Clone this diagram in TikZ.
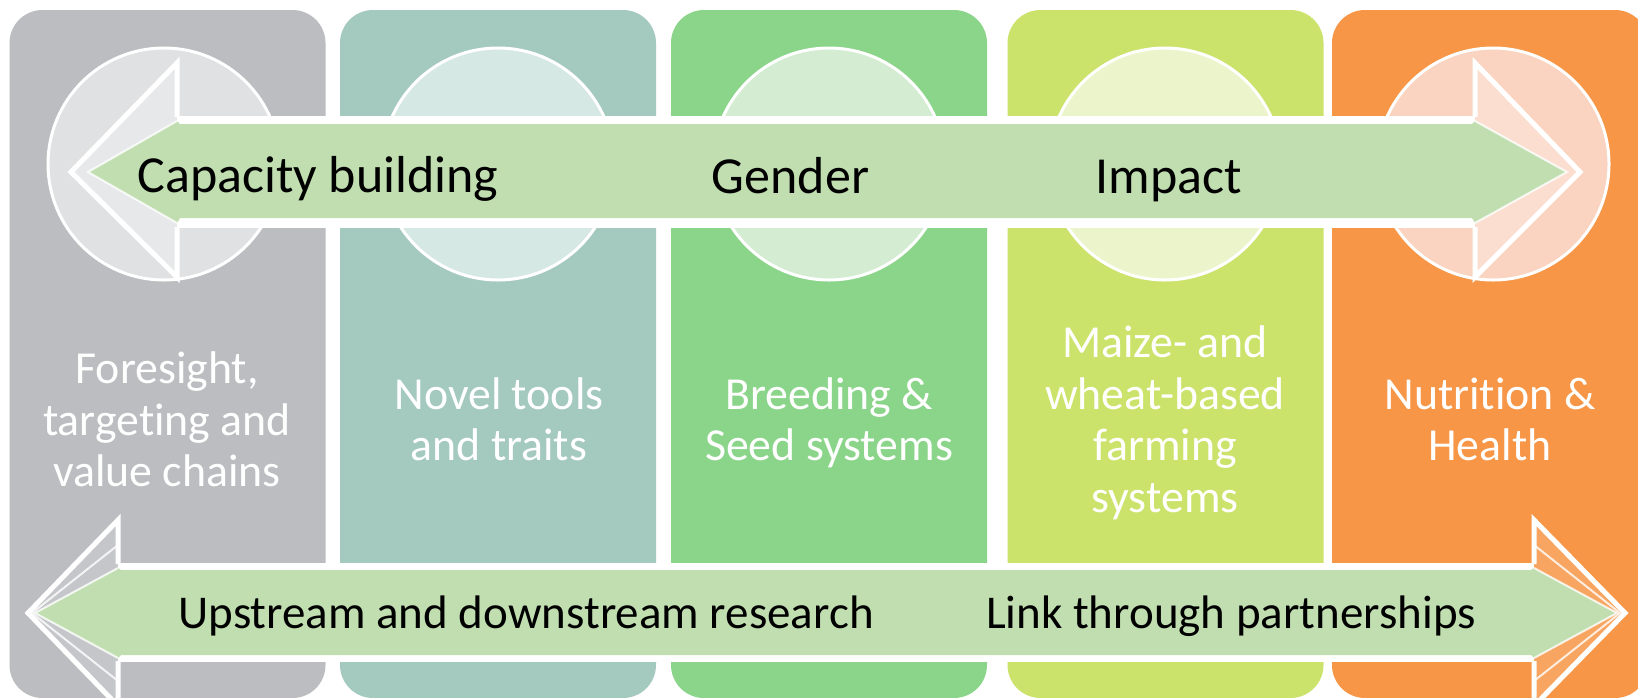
\documentclass[tikz,border=0pt]{standalone}
\usepackage{fontspec}
\setmainfont[RawFeature={-liga;-clig;-calt;-rlig;-dlig}]{Carlito}
\definecolor{colgray}{RGB}{188,189,192}
\definecolor{colteal}{RGB}{164,201,190}
\definecolor{colgreen}{RGB}{139,213,138}
\definecolor{collime}{RGB}{203,227,107}
\definecolor{colorange}{RGB}{247,150,70}
\definecolor{cirgray}{RGB}{224,225,226}
\definecolor{cirteal}{RGB}{214,232,227}
\definecolor{cirgreen}{RGB}{212,237,210}
\definecolor{cirlime}{RGB}{236,244,204}
\definecolor{cirorange}{RGB}{250,212,192}
\definecolor{arrowgreen}{RGB}{192,222,176}
\begin{document}
\begin{tikzpicture}[x=0.5pt,y=-0.5pt,
  colbox/.style={rectangle, rounded corners=16.5pt, minimum width=158pt, minimum height=344pt, inner sep=0pt, draw=none},
  cirbox/.style={circle, minimum size=116pt, inner sep=0pt, draw=white, line width=1.5pt},
  toplbl/.style={anchor=base, inner sep=0pt, text=black, font=\fontsize{26}{31}\selectfont},
  botlbl/.style={anchor=base, inner sep=0pt, text=black, font=\fontsize{23.5}{28}\selectfont},
  collbl/.style={align=center, inner sep=0pt, text=white, font=\fontsize{22.9}{25.85}\selectfont},
  edge/.style={white, line width=2.5pt, line join=miter, line cap=butt},
  faint/.style={white, line width=1pt, opacity=0.8}]
\useasboundingbox (0,0) rectangle (1638,697);
\fill[white] (0,0) rectangle (1638,697);

% columns
\node[colbox, fill=colgray]   (c1) at (167.5,354) {};
\node[colbox, fill=colteal]   (c2) at (498,354) {};
\node[colbox, fill=colgreen]  (c3) at (829,354) {};
\node[colbox, fill=collime]   (c4) at (1165.5,354) {};
\node[colbox, fill=colorange] (c5) at (1490,354) {};

% circles
\node[cirbox, fill=cirgray]   (o1) at (164,164) {};
\node[cirbox, fill=cirteal]   (o2) at (498,164) {};
\node[cirbox, fill=cirgreen]  (o3) at (829,164) {};
\node[cirbox, fill=cirlime]   (o4) at (1165,164) {};
\node[cirbox, fill=cirorange] (o5) at (1493,164) {};

% top double arrow
\fill[white] (177,116) rectangle (1475,228);
\fill[white, opacity=0.25] (177,63) -- (68,172) -- (177,277) -- cycle;
\fill[white, opacity=0.25] (1475,63) -- (1583,172) -- (1475,277) -- cycle;
\fill[arrowgreen] (88,172) -- (177,121) -- (180,124) -- (1472,124) -- (1475,121) -- (1567,172)
  -- (1475,223) -- (1472,218) -- (180,218) -- (177,223) -- cycle;
\draw[edge] (177,117) -- (177,63) -- (71,172) -- (177,277) -- (177,227);
\draw[edge] (1475,117) -- (1475,63) -- (1580,172) -- (1475,277) -- (1475,227);
\draw[faint] (177,121) -- (88,172) -- (177,223);
\draw[faint] (1475,121) -- (1567,172) -- (1475,223);

% bottom double arrow
\fill[white] (118,563) rectangle (1534,662);
\fill[white, opacity=0.15] (118,520) -- (25,613) -- (118,706) -- cycle;
\fill[white, opacity=0.15] (1534,520) -- (1628,613) -- (1534,706) -- cycle;
\fill[arrowgreen] (35,613) -- (118,568) -- (121,570) -- (1531,570) -- (1534,568) -- (1617,613)
  -- (1534,658) -- (1531,655) -- (121,655) -- (118,658) -- cycle;
\draw[edge] (118,564) -- (118,520) -- (28,613) -- (118,706) -- (118,661);
\draw[edge] (1534,564) -- (1534,520) -- (1625,613) -- (1534,706) -- (1534,661);
\draw[faint] (118,568) -- (35,613) -- (118,658);
\draw[faint] (1534,568) -- (1617,613) -- (1534,658);
\draw[faint] (118,545) -- (32,613) -- (118,681);
\draw[faint] (1534,545) -- (1620,613) -- (1534,681);

% arrow labels
\node[toplbl] (cap) at (318,192) {Capacity building};
\node[toplbl] (gen) at (790.5,193) {Gender};
\node[toplbl] (imp) at (1169,193) {Impact};
\node[botlbl] (ups) at (526,628) {Upstream and downstream research};
\node[botlbl] (lnk) at (1231,628) {Link through partnerships};

% column labels
\node[collbl] (t1) at (167,424.7) {\strut Foresight,\\targeting and\\value chains\strut};
\node[collbl] (t2) at (499,424.7) {\strut Novel tools\\and traits\strut};
\node[collbl] (t3) at (829,424.7) {\strut Breeding \&\\Seed systems\strut};
\node[collbl] (t4) at (1165,424.7) {\strut Maize- and\\wheat-based\\farming\\systems\strut};
\node[collbl] (t5) at (1490,424.7) {\strut Nutrition \&\\Health\strut};
\end{tikzpicture}
\end{document}
